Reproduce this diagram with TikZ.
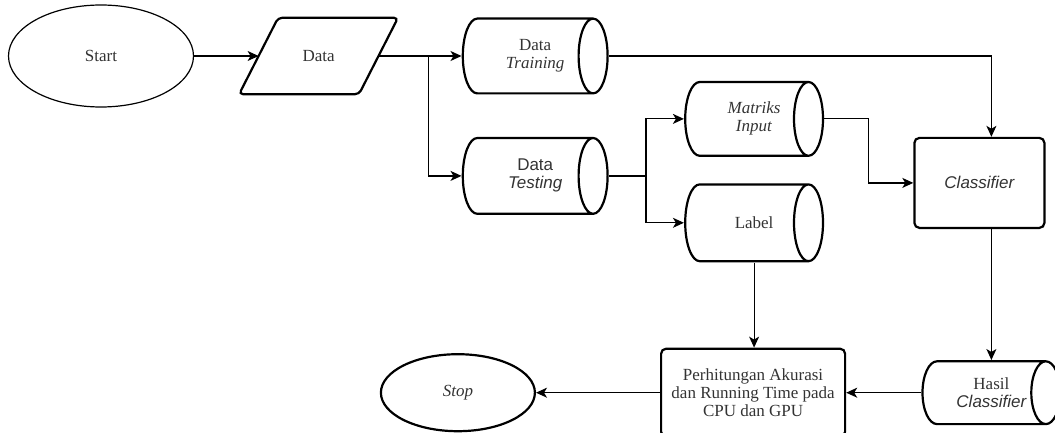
\documentclass[tikz,border=0pt]{standalone}
\usepackage{fontspec}
\setmainfont{Liberation Serif}
\setsansfont{Liberation Sans}
\usetikzlibrary{arrows.meta,positioning,calc,shapes.geometric}

\begin{document}
\begin{tikzpicture}[x=1pt,y=-1pt,
      font=\fontsize{17}{18}\selectfont,text=black!80,
      term/.style={draw,ellipse,inner sep=0pt},
      iobox/.style={inner sep=0pt,minimum width=119.5pt,minimum height=76pt},
      store/.style={inner sep=0pt,align=center,minimum width=140pt,minimum height=77pt,
        path picture={
          \draw[line width=2.2pt,black]
            let \p1=([shift={(1.1pt,-1.1pt)}]path picture bounding box.north west),
                \p2=([shift={(-1.1pt,1.1pt)}]path picture bounding box.south east),
                \n1={(\y1-\y2)/2}
            in (\x1+14.5pt,\y1)--(\x2-14.5pt,\y1)
               arc[start angle=90,end angle=-90,x radius=14.5pt,y radius=\n1]
               --(\x1+14.5pt,\y2)
               arc[start angle=270,end angle=90,x radius=14.5pt,y radius=\n1]--cycle
               (\x2-14.5pt,\y1) arc[start angle=90,end angle=270,x radius=14.5pt,y radius=\n1];
        }},
      procbox/.style={draw,rounded corners=5pt,align=center,line width=2.2pt,inner sep=0pt},
      arr/.style={-{Stealth[length=11pt,width=10pt,inset=3pt]},line width=1.2pt}]
    \useasboundingbox (0,0) rectangle (1055,433);
    \node[term,line width=1.2pt,minimum width=185pt,minimum height=102pt] (start) at (101,56) {Start};
    \node[iobox,right=64.5pt of start] (data) {Data};
    \draw[line width=2.2pt,rounded corners=4pt]
      ([xshift=-19.5pt]data.south west)--([xshift=19.5pt]data.north west)
      --([xshift=19.5pt]data.north east)--([xshift=-19.5pt]data.south east)--cycle;
    \node[store,minimum width=147pt,right=83pt of data] (trn) {Data\\\textit{Training}};
    \node[store,minimum width=147pt,minimum height=78pt,below=42pt of trn,font=\fontsize{17}{18}\sffamily]
      (tst) {Data\\\textit{Testing}};
    \node[store,minimum height=76pt,right=75pt of tst,yshift=57pt] (mat) {\textit{Matriks}\\\textit{Input}};
    \node[store,minimum height=79pt,below=26pt of mat] (lbl) {Label};
    \node[procbox,minimum width=130pt,minimum height=90pt,right=89pt of mat,yshift=-64pt,
          font=\fontsize{17}{18}\sffamily\itshape] (cls) {Classifier};
    \node[store,minimum height=65pt,below=131pt of cls,xshift=12pt] (hasil)
      {Hasil\\{\sffamily\itshape Classifier}};
    \node[procbox,minimum width=184pt,minimum height=88pt,left=75pt of hasil] (perh)
      {Perhitungan Akurasi\\dan Running Time pada\\CPU dan GPU};
    \node[term,line width=2.2pt,minimum width=154pt,minimum height=77pt,left=124pt of perh]
      (stop) {\textit{Stop}};
    \draw[arr] (start)--(data);
    \draw[arr] (data.east)--(trn.west);
    \draw[arr] (data.east)--++(50,0)|-(tst.west);
    \draw[arr] (tst.east)--++(37,0)|-(mat.west);
    \draw[arr] (tst.east)--++(37,0)|-(lbl.west);
    \draw[arr] (mat.east)--++(44,0)|-(cls.west);
    \draw[arr] (trn.east)-|(cls.north-|hasil.north);
    \draw[arr] (cls.south-|hasil.north)--(hasil.north);
    \draw[arr] (lbl.south)--(lbl.south|-perh.north);
    \draw[arr] (hasil.west)--(hasil.west-|perh.east);
    \draw[arr] (perh.west)--(perh.west-|stop.east);
  \end{tikzpicture}
\end{document}
